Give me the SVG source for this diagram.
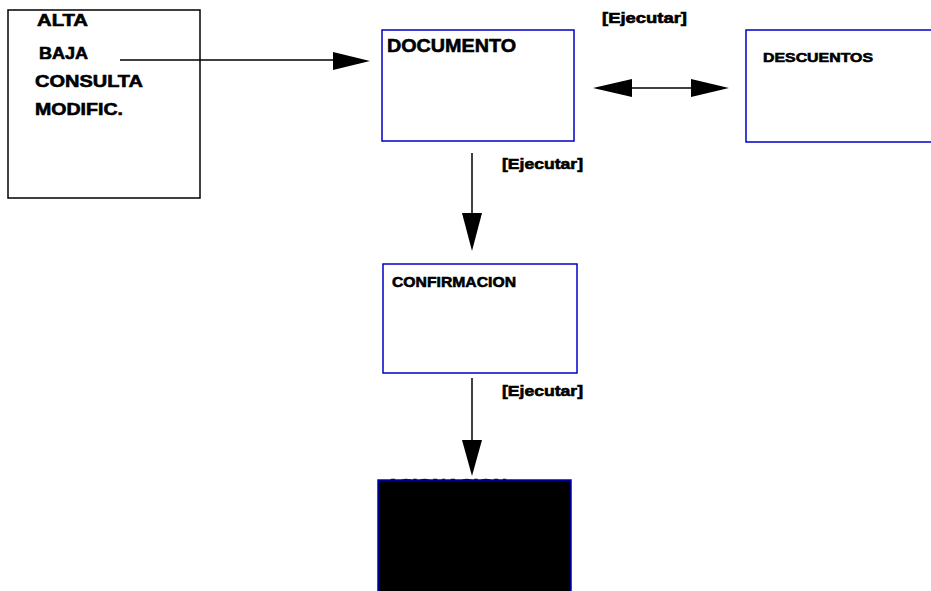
<svg xmlns="http://www.w3.org/2000/svg" width="931" height="591" viewBox="0 0 931 591">
<style>
text{font-family:"Liberation Sans",Arial,sans-serif;font-weight:bold;fill:#000;stroke:#000;stroke-width:0.6}
.box{fill:#fff;stroke:#0000c8;stroke-width:1.5}
.conn{stroke:#000;stroke-width:1.5;fill:none}
.head{fill:#000;stroke:none}
</style>
<rect width="931" height="591" fill="#fff"/>
<g id="menu">
<rect x="8" y="10" width="192" height="188" fill="#fff" stroke="#000" stroke-width="1.5"/>
<text x="37" y="26" font-size="16" textLength="51" lengthAdjust="spacingAndGlyphs">ALTA</text>
<text x="39" y="59" font-size="16" textLength="49" lengthAdjust="spacingAndGlyphs">BAJA</text>
<text x="35" y="87" font-size="17" textLength="108" lengthAdjust="spacingAndGlyphs">CONSULTA</text>
<text x="35" y="115" font-size="17" textLength="88" lengthAdjust="spacingAndGlyphs">MODIFIC.</text>
</g>
<g id="documento">
<rect class="box" x="382" y="30" width="192" height="111"/>
<text x="387" y="52" font-size="19" textLength="129" lengthAdjust="spacingAndGlyphs">DOCUMENTO</text>
</g>
<g id="descuentos">
<rect class="box" x="746" y="30" width="200" height="112"/>
<text x="763" y="62" font-size="13" textLength="110" lengthAdjust="spacingAndGlyphs">DESCUENTOS</text>
</g>
<g id="confirmacion">
<rect class="box" x="383" y="264" width="194" height="109"/>
<text x="392" y="287" font-size="15" textLength="124" lengthAdjust="spacingAndGlyphs">CONFIRMACION</text>
</g>
<g id="asignacion">
<text x="386" y="489" font-size="15" textLength="121" lengthAdjust="spacingAndGlyphs">ASIGNACION</text>
<rect x="378" y="480" width="193" height="120" fill="#000" stroke="#0000c8" stroke-width="1.5"/>
</g>
<g id="connectors">
<line class="conn" x1="120" y1="60" x2="340" y2="60"/>
<polygon class="head" points="370,61 333,52 333,70"/>
<line class="conn" x1="620" y1="88" x2="700" y2="88"/>
<polygon class="head" points="593,88 632,79 632,97"/>
<polygon class="head" points="729,88 691,79 691,97"/>
<line class="conn" x1="472" y1="153" x2="472" y2="220"/>
<polygon class="head" points="472,251 462,213 482,213"/>
<line class="conn" x1="472" y1="378" x2="472" y2="445"/>
<polygon class="head" points="472,476 462,440 482,440"/>
</g>
<g id="labels">
<text x="602" y="23" font-size="15" textLength="85" lengthAdjust="spacingAndGlyphs">[Ejecutar]</text>
<text x="502" y="169" font-size="15" textLength="81" lengthAdjust="spacingAndGlyphs">[Ejecutar]</text>
<text x="502" y="396" font-size="15" textLength="81" lengthAdjust="spacingAndGlyphs">[Ejecutar]</text>
</g>
</svg>
